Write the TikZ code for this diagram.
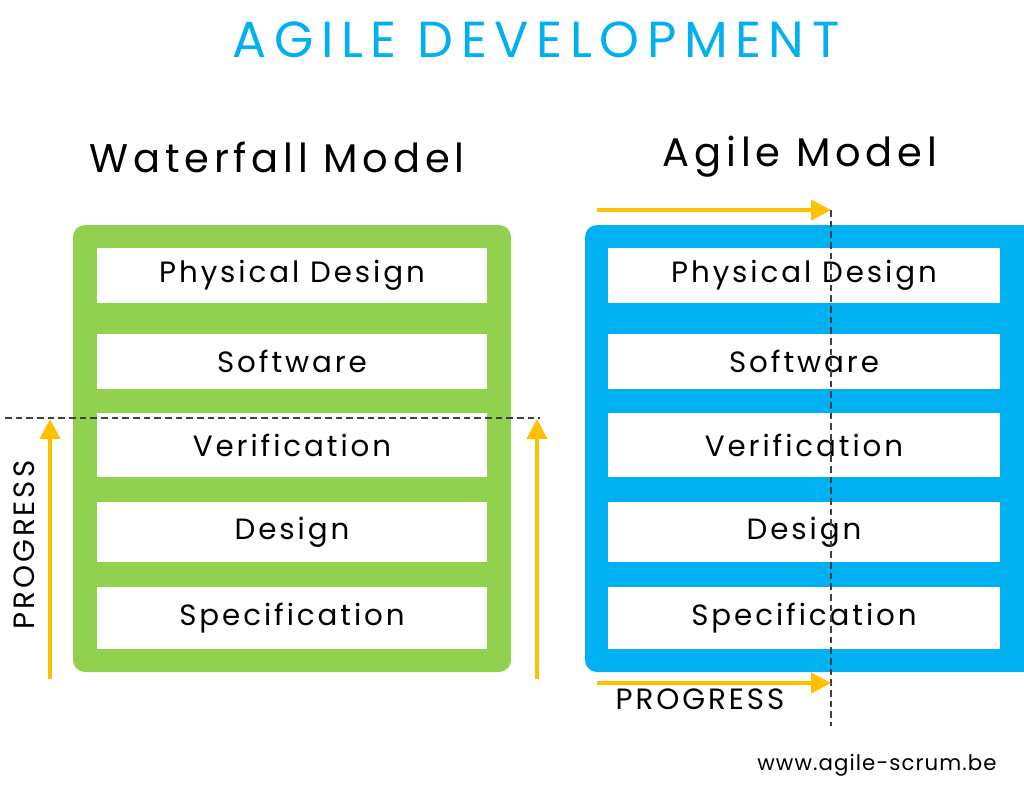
\documentclass[tikz,border=0pt]{standalone}
\usepackage{fontspec}
\setmainfont{Poppins}
\newfontfamily\titlefont[LetterSpace=15]{Poppins}
\newfontfamily\headfont[LetterSpace=12]{Poppins}
\newfontfamily\rowfont[LetterSpace=10]{Poppins}
\newfontfamily\sitefont[LetterSpace=5]{Poppins}
\usetikzlibrary{arrows.meta}

\definecolor{wfgreen}{RGB}{146,208,80}
\definecolor{agblue}{RGB}{0,176,240}
\definecolor{prgyellow}{RGB}{255,192,0}
\definecolor{dashgray}{RGB}{64,64,64}

\tikzset{every picture/.style={line width=0.75pt}}
\tikzset{
  rowbox/.style={fill=white, draw=none, inner sep=0pt, minimum width=292.5pt, font=\rowfont\fontsize{22}{22}\selectfont},
  heading/.style={font=\headfont\fontsize{30}{30}\selectfont},
  proglabel/.style={font=\rowfont\fontsize{22}{22}\selectfont},
  progarrow/.style={draw=prgyellow, line width=3pt, -{Triangle[length=15pt,width=15pt]}},
  progline/.style={draw=dashgray, line width=1.5pt, dash pattern={on 5pt off 3pt}}
}

\begin{document}
\begin{tikzpicture}[x=0.75pt,y=0.75pt,yscale=-1,xscale=1]
\useasboundingbox (0,0) rectangle (1024,793);
\clip (0,0) rectangle (1024,793);

%Title
\node[text=agblue, font=\titlefont\fontsize{38}{38}\selectfont] (title) at (536,40) {AGILE DEVELOPMENT};

%Headings
\node[heading] (wfhead) at (277,157) {Waterfall Model};
\node[heading] (aghead) at (800,157) {Agile Model};

%Shape: Rounded Rect (waterfall frame)
\draw[fill=wfgreen, draw=none, rounded corners=9pt] (73,225) rectangle (511,672);
%Shape: Rounded Rect (agile frame)
\draw[fill=agblue, draw=none, rounded corners=9pt] (585,225) rectangle (1060,672);

%Waterfall rows
\node[rowbox, minimum height=41.25pt] (wphys) at (292,275.5) {Physical Design};
\node[rowbox, minimum height=41.25pt] (wsoft) at (292,361.5) {Software};
\node[rowbox, minimum height=48pt] (wveri) at (292,445) {Verification};
\node[rowbox, minimum height=45pt] (wdesi) at (292,532) {Design};
\node[rowbox, minimum height=46.5pt] (wspec) at (292,618) {Specification};

%Agile rows
\node[rowbox, minimum width=294pt, minimum height=41.25pt] (aphys) at (804,275.5) {Physical Design};
\node[rowbox, minimum width=294pt, minimum height=41.25pt] (asoft) at (804,361.5) {Software};
\node[rowbox, minimum width=294pt, minimum height=48pt] (averi) at (804,445) {Verification};
\node[rowbox, minimum width=294pt, minimum height=45pt] (adesi) at (804,532) {Design};
\node[rowbox, minimum width=294pt, minimum height=46.5pt] (aspec) at (804,618) {Specification};

%Waterfall progress
\coordinate (wdashl) at (5,418);
\coordinate (wdashr) at (540,418);
\draw[progline] (wdashl) -- (wdashr);
\coordinate (wleftbot) at (50,679);
\coordinate (wlefttop) at (50,419);
\coordinate (wrightbot) at (537,679);
\coordinate (wrighttop) at (537,419);
\draw[progarrow] (wleftbot) -- (wlefttop);
\draw[progarrow] (wrightbot) -- (wrighttop);
\node[proglabel, rotate=90] (wprog) at (24,545) {PROGRESS};

%Agile progress
\coordinate (adashtop) at (831,210);
\coordinate (adashbot) at (831,726);
\draw[progline] (adashtop) -- (adashbot);
\coordinate (atopl) at (597,210);
\draw[progarrow] (atopl) -- (adashtop);
\coordinate (abotl) at (597,683);
\coordinate (abotr) at (831,683);
\draw[progarrow] (abotl) -- (abotr);
\node[proglabel] (aprog) at (700,699) {PROGRESS};

%Footer
\node[font=\sitefont\fontsize{16}{16}\selectfont] (site) at (877,765) {www.agile-scrum.be};

\end{tikzpicture}
\end{document}
